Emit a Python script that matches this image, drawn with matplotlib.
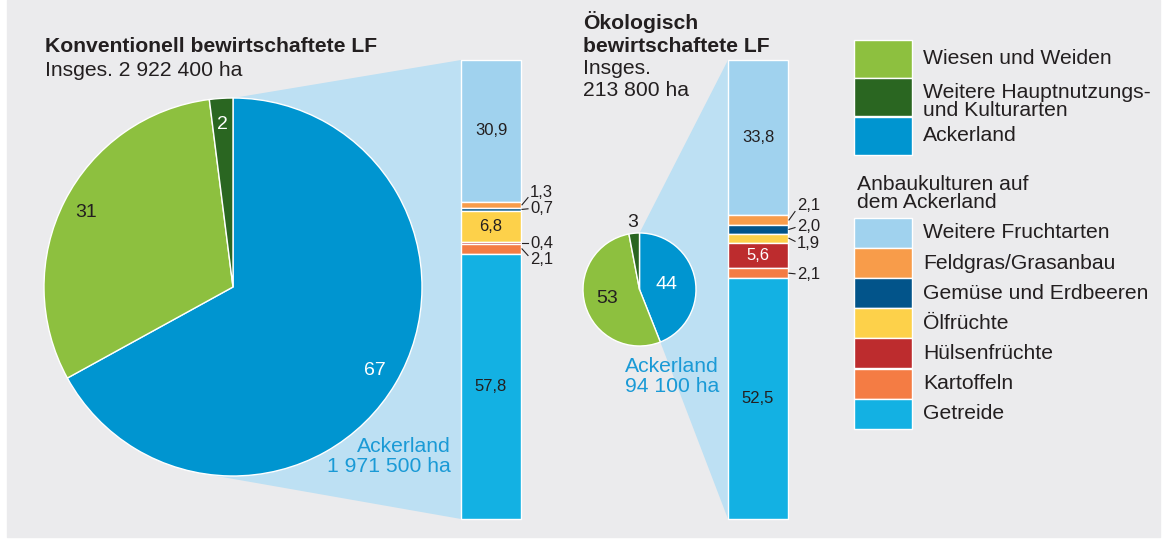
import matplotlib
matplotlib.use("Agg")
import matplotlib.pyplot as plt
from matplotlib.patches import Rectangle, Polygon
import numpy as np

plt.rcParams['font.family'] = ['Liberation Sans', 'DejaVu Sans']

# Daten
pie_labels = ["Ackerland", "Wiesen und Weiden", "Weitere Hauptnutzungs-\nund Kulturarten"]
konv_pie = [67, 31, 2]
oeko_pie = [44, 53, 3]

crops = ["Weitere Fruchtarten", "Feldgras/Grasanbau", "Gemüse und Erdbeeren",
         "Ölfrüchte", "Hülsenfrüchte", "Kartoffeln", "Getreide"]
konv_bar = [30.9, 1.3, 0.7, 6.8, 0.4, 2.1, 57.8]
oeko_bar = [33.8, 2.1, 2.0, 1.9, 5.6, 2.1, 52.5]

konv_title = "Konventionell bewirtschaftete LF"
konv_total = "Insges. 2 922 400 ha"
konv_acker = "Ackerland\n1 971 500 ha"
oeko_title = "Ökologisch\nbewirtschaftete LF"
oeko_total = "Insges.\n213 800 ha"
oeko_acker = "Ackerland\n94 100 ha"
crop_title = "Anbaukulturen auf\ndem Ackerland"

# Farben
c_acker = "#0095d0"
c_wiese = "#8dc03f"
c_weitere = "#2a6621"
pie_colors = [c_acker, c_wiese, c_weitere]
crop_colors = ["#a0d2ee", "#f89c4a", "#02548a", "#fdd14a", "#bd2c2e", "#f47c44", "#13b1e3"]
c_link = "#bde0f3"
c_text = "#231f20"
c_blue_text = "#1a9ad6"

W, H = 1165, 541
FS = 15.2

def Y(y):
    # Pixel-y (von oben) -> Achsen-y (von unten)
    return H - y


def de(v):
    return f"{v:.1f}".replace(".", ",")


def lines(x, y, step, text, **kw):
    # mehrzeiliger Text mit festem Zeilenabstand in Pixeln
    for k, line in enumerate(text.split("\n")):
        ax.text(x, Y(y + k * step), line, va="center", zorder=3, **kw)


fig = plt.figure(figsize=(W / 100, H / 100), dpi=100)
ax = fig.add_axes([0, 0, 1, 1])

ax.add_patch(Rectangle((7, Y(537)), 1153, 537, color="#ebebed", zorder=0))


def pie_block(values, cx, cy, r, bar_x, bar_top, bar_bot, bot_angle, label_dist, label_colors, fs):
    # Verbindungsfläche Kreis -> Säule
    c = np.array([cx, Y(cy)])
    p_top = c + r * np.array([0, 1])
    p_bot = c + r * np.array([np.cos(np.radians(bot_angle)), np.sin(np.radians(bot_angle))])
    poly = Polygon([c, p_top, (bar_x, Y(bar_top)), (bar_x, Y(bar_bot)), p_bot],
                   closed=True, color=c_link, lw=0, zorder=1)
    ax.add_patch(poly)
    wedges, _ = ax.pie(values, colors=pie_colors, startangle=90, counterclock=False,
                       center=(cx, Y(cy)), radius=r,
                       wedgeprops=dict(edgecolor="white", linewidth=1, zorder=2))
    for w, v, d, col in zip(wedges, values, label_dist, label_colors):
        a = np.radians((w.theta1 + w.theta2) / 2)
        ax.text(cx + d * r * np.cos(a), Y(cy) + d * r * np.sin(a), str(v),
                ha="center", va="center", color=col, fontsize=fs, zorder=3)


def bar_block(values, x0, top, bot, inside, outside, white_inside):
    scale = (bot - top) / sum(values)
    xc = x0 + 30
    cur = Y(top)
    centers = []
    for v, col in zip(values, crop_colors):
        h = v * scale
        ax.bar(xc, h, width=60, bottom=cur - h, color=col, edgecolor="white",
               linewidth=1, zorder=2)
        centers.append(cur - h / 2)
        cur -= h
    for i in inside:
        col = "white" if i in white_inside else c_text
        ax.text(xc, centers[i], de(values[i]), ha="center", va="center",
                fontsize=12, color=col, zorder=3)
    xr = x0 + 60
    for i, dy in outside:
        yc = centers[i]
        ax.plot([xr + 1, xr + 7], [yc, yc - dy * 0.6], color=c_text, lw=0.8, zorder=3)
        ax.text(xr + 9, yc - dy, de(values[i]), ha="left", va="center",
                fontsize=12, color=c_text, zorder=3)


# Konventionell
pie_block(konv_pie, 233, 287, 189, 461, 60, 519, -100, [0.87, 0.87, 0.86],
          ["white", c_text, "white"], 14)
bar_block(konv_bar, 461, 60, 519, [0, 3, 6], [(1, -12), (2, -1), (4, 0), (5, 11)], [])
lines(45, 47, 23, konv_title, fontsize=FS, fontweight="bold", color=c_text)
lines(45, 70, 23, konv_total, fontsize=FS, color=c_text)
lines(451, 447, 20, konv_acker, fontsize=FS, color=c_blue_text, ha="right")

# Ökologisch
pie_block(oeko_pie, 639.5, 289.5, 56.5, 728, 60, 519, -68.4, [0.49, 0.6, 1.2],
          ["white", c_text, c_text], 14)
bar_block(oeko_bar, 728, 60, 519, [0, 4, 6], [(1, -14), (2, -3), (3, 5), (5, 1)], [4])
lines(583, 22, 24, oeko_title, fontsize=FS, fontweight="bold", color=c_text)
lines(583, 69, 21, oeko_total, fontsize=FS, color=c_text)
lines(719, 366, 20, oeko_acker, fontsize=FS, color=c_blue_text, ha="right")

# Legende
lx, lw = 854, 58
y0 = 40
for lab, col in zip([pie_labels[1], pie_labels[2], pie_labels[0]], [c_wiese, c_weitere, c_acker]):
    ax.add_patch(Rectangle((lx, Y(y0 + 38)), lw, 38, facecolor=col, edgecolor="white", lw=1))
    n = lab.count("\n")
    lines(lx + 69, y0 + 19 - n * 5, 18, lab, fontsize=FS, color=c_text)
    y0 += 38.3

lines(857, 185, 18, crop_title, fontsize=FS, color=c_text)
y0 = 218
for lab, col in zip(crops, crop_colors):
    ax.add_patch(Rectangle((lx, Y(y0 + 30)), lw, 30, facecolor=col, edgecolor="white", lw=1))
    lines(lx + 69, y0 + 15, 0, lab, fontsize=FS, color=c_text)
    y0 += 30.1

# pie() setzt eigene Grenzen, daher erst am Ende
ax.set_xlim(0, W)
ax.set_ylim(0, H)
ax.set_aspect("equal")
ax.axis("off")

fig.savefig("out.png", dpi=100, facecolor="white")
